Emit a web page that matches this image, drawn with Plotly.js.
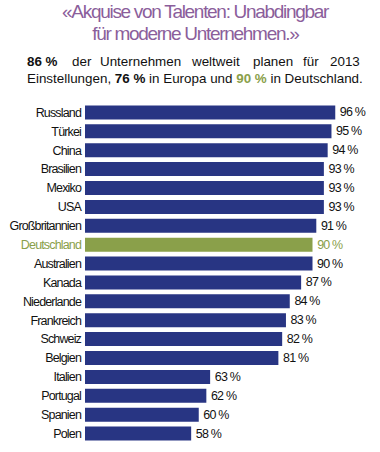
<!DOCTYPE html>
<html><head><meta charset="utf-8">
<script src="https://cdn.plot.ly/plotly-3.0.1.min.js"></script>
<style>
html,body{margin:0;padding:0;background:#fff}#c{width:380px;height:452px}
#c .ytick text{letter-spacing:-0.85px}
#c .bartext text, #c text.bartext{letter-spacing:-0.8px}
#c .annotation[data-index="0"] text, #c .annotation[data-index="1"] text{letter-spacing:-1.3px}
</style>
</head><body><div id="c"></div>
<script>
const countries = ["Russland","Türkei","China","Brasilien","Mexiko","USA","Großbritannien","Deutschland","Australien","Kanada","Niederlande","Frankreich","Schweiz","Belgien","Italien","Portugal","Spanien","Polen"];
const values = [96,95,94,93,93,93,91,90,90,87,84,83,82,81,63,62,60,58];
const highlight = "Deutschland";
const titleLines = ["«Akquise von Talenten: Unabdingbar","für moderne Unternehmen.»"];
const line1Words = ["<b>86 %</b>","der","Unternehmen","weltweit","planen","für","2013"];
const line2 = "Einstellungen, <b>76 %</b> in Europa und <b><span style='color:#8aa04a'>90 %</span></b> in Deutschland.";

const NAVY = "#283583", GREEN = "#8aa04a";
const W = 380, H = 452, L = 85, R = 0, T = 103, B = 9;
const pw = W - L - R, ph = H - T - B;
const px = x => (x - L) / pw;
const py = y => 1 - (y - T) / ph;

const colors = countries.map(c => c === highlight ? GREEN : NAVY);
const ticktext = countries.map(c => c === highlight ? `<span style="color:${GREEN}">${c}</span>` : c);

const sans = "Liberation Sans, Arial, sans-serif";
const trace = {
  type: "bar", orientation: "h",
  x: values, y: countries,
  marker: {color: colors},
  text: values.map(v => v + " %"),
  textposition: "outside", cliponaxis: false,
  textfont: {family: sans, size: 12.5, color: countries.map(c => c === highlight ? GREEN : "#111")},
  hoverinfo: "none"
};

const annotations = [];
annotations.push({text: titleLines[0], x: px(195), y: py(11), xref: "paper", yref: "paper", xanchor: "center", yanchor: "middle", showarrow: false, font: {family: sans, size: 19, color: "#8b5e9b"}});
annotations.push({text: titleLines[1], x: px(195), y: py(33), xref: "paper", yref: "paper", xanchor: "center", yanchor: "middle", showarrow: false, font: {family: sans, size: 19, color: "#8b5e9b"}});
const wordX = [25, 81.5, 140, 215, 272.5, 310.5, 362];
line1Words.forEach((w, i) => {
  annotations.push({text: w, x: px(wordX[i]), y: py(62), xref: "paper", yref: "paper",
    xanchor: i === 0 ? "left" : (i === line1Words.length - 1 ? "right" : "center"), yanchor: "middle", showarrow: false,
    font: {family: sans, size: 13.4, color: "#111"}});
});
annotations.push({text: line2, x: px(25), y: py(78), xref: "paper", yref: "paper", xanchor: "left", yanchor: "middle", showarrow: false, font: {family: sans, size: 13.4, color: "#111"}});

const layout = {
  width: W, height: H,
  margin: {l: L, r: R, t: T, b: B, pad: 0},
  paper_bgcolor: "#fff", plot_bgcolor: "#fff",
  showlegend: false, bargap: 0.26,
  xaxis: {range: [30, 107.8], visible: false, fixedrange: true},
  yaxis: {type: "category", autorange: "reversed", tickmode: "array", tickvals: countries, ticktext: ticktext,
    showgrid: false, zeroline: false, showline: false, ticks: "", ticklabelstandoff: 3,
    tickfont: {family: sans, size: 12.5, color: "#111"}},
  annotations: annotations,
  font: {family: sans}
};
Plotly.newPlot("c", [trace], layout, {staticPlot: true, displayModeBar: false});
</script></body></html>
